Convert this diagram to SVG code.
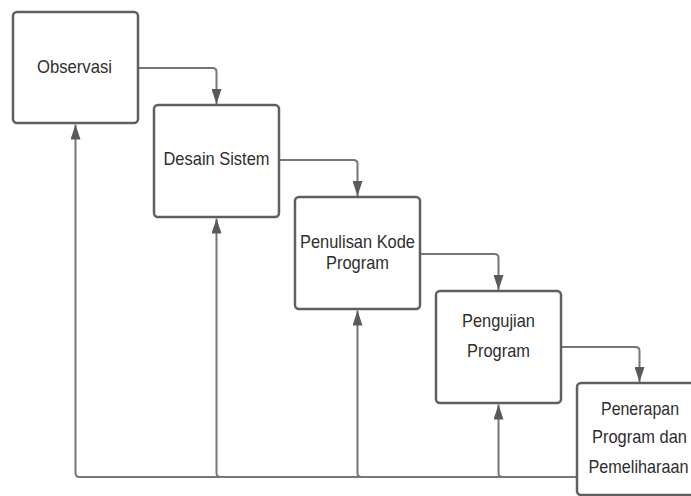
<svg xmlns="http://www.w3.org/2000/svg" width="691" height="496" viewBox="0 0 691 496">
<defs>
<style>
.box{fill:#fff;stroke:#5f5f5f;stroke-width:2.5}
.con{fill:none;stroke:#767676;stroke-width:2}
.t{font-family:"Liberation Sans",Arial,sans-serif;font-size:18.5px;fill:#2e2e2e;text-anchor:middle}
</style>
<marker id="ah" markerUnits="userSpaceOnUse" markerWidth="15" markerHeight="10" refX="15" refY="5" orient="auto" viewBox="0 0 15 10">
<polygon points="0,0 15,5 0,10" fill="#5a5a5a"/>
</marker>
</defs>
<rect width="691" height="496" fill="#fff"/>
<g id="connectors">
<path class="con" marker-end="url(#ah)" d="M138,68 H212.5 Q216.5,68 216.5,72 V104"/>
<path class="con" marker-end="url(#ah)" d="M279,160 H353.5 Q357.5,160 357.5,164 V196"/>
<path class="con" marker-end="url(#ah)" d="M420,254 H494.5 Q498.5,254 498.5,258 V290"/>
<path class="con" marker-end="url(#ah)" d="M561,347 H635.5 Q639.5,347 639.5,351 V382"/>
<path class="con" marker-end="url(#ah)" d="M577,477 H79.5 Q75.5,477 75.5,473 V124.5"/>
<path class="con" marker-end="url(#ah)" d="M577,477 H220.5 Q216.5,477 216.5,473 V218.5"/>
<path class="con" marker-end="url(#ah)" d="M577,477 H361.5 Q357.5,477 357.5,473 V310.5"/>
<path class="con" marker-end="url(#ah)" d="M577,477 H502.5 Q498.5,477 498.5,473 V404.5"/>
</g>
<g id="observasi">
<rect class="box" x="13" y="12" width="125" height="111" rx="4"/>
<text class="t" x="74.5" y="73" textLength="75" lengthAdjust="spacingAndGlyphs">Observasi</text>
</g>
<g id="desain-sistem">
<rect class="box" x="154" y="105" width="125" height="112" rx="4"/>
<text class="t" x="216.5" y="165" textLength="106" lengthAdjust="spacingAndGlyphs">Desain Sistem</text>
</g>
<g id="penulisan-kode">
<rect class="box" x="295" y="197" width="125" height="112" rx="4"/>
<text class="t" x="357.5" y="248" textLength="115" lengthAdjust="spacingAndGlyphs">Penulisan Kode</text>
<text class="t" x="357.5" y="269" textLength="63" lengthAdjust="spacingAndGlyphs">Program</text>
</g>
<g id="pengujian">
<rect class="box" x="436" y="291" width="125" height="112" rx="4"/>
<text class="t" x="498.5" y="327" textLength="73" lengthAdjust="spacingAndGlyphs">Pengujian</text>
<text class="t" x="498.5" y="357" textLength="63" lengthAdjust="spacingAndGlyphs">Program</text>
</g>
<g id="penerapan">
<rect class="box" x="577" y="383" width="125" height="112" rx="4"/>
<text class="t" x="640" y="415" textLength="78" lengthAdjust="spacingAndGlyphs">Penerapan</text>
<text class="t" x="639.5" y="443" textLength="95" lengthAdjust="spacingAndGlyphs">Program dan</text>
<text class="t" x="638.5" y="473" textLength="100" lengthAdjust="spacingAndGlyphs">Pemeliharaan</text>
</g>
</svg>
